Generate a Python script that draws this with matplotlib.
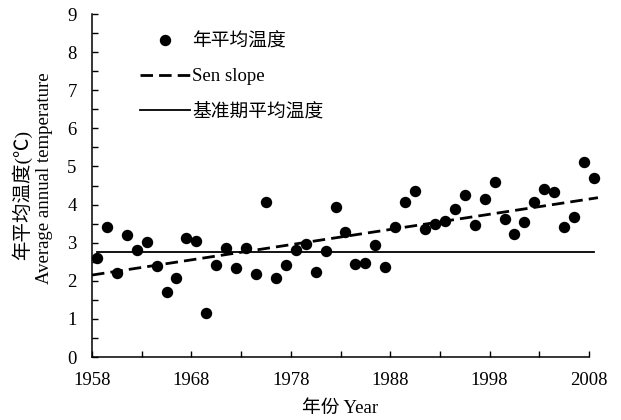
import matplotlib
matplotlib.use("Agg")
import matplotlib.pyplot as plt
from matplotlib.lines import Line2D

# Annual mean temperature series, 1958-2008
years = list(range(1958, 2009))
temps = [
    2.59, 3.42, 2.21, 3.20, 2.81, 3.03, 2.40, 1.71,            # 1958-1965
    2.08, 3.13, 3.05, 1.15, 2.42, 2.85, 2.34, 2.87, 2.19, 4.06,  # 1966-1975
    2.08, 2.42, 2.81, 2.96, 2.22, 2.77, 3.93, 3.28, 2.43, 2.46,  # 1976-1985
    2.94, 2.37, 3.42, 4.06, 4.36, 3.37, 3.50, 3.57, 3.88, 4.25,  # 1986-1995
    3.46, 4.14, 4.60, 3.61, 3.22, 3.54, 4.08, 4.41, 4.32, 3.42,  # 1996-2005
    3.67, 5.11, 4.69,                                            # 2006-2008
]

# Sen slope trend line (end points) and reference-period mean
sen_years = [1957.5, 2008.4]
sen_values = [2.15, 4.18]
base_years = [1958, 2008]
base_value = 2.76

# Axis ticks
xtick_years = [1958, 1963, 1968, 1973, 1978, 1983, 1988, 1993, 1998, 2003, 2008]
xtick_labels = ["1958", "", "1968", "", "1978", "", "1988", "", "1998", "", "2008"]
yticks = list(range(0, 10))

legend_labels = ["年平均温度", "Sen slope", "基准期平均温度"]
xlabel = "年份 Year"
ylabel_cn = "年平均温度(℃)"
ylabel_en = "Average annual temperature"

FAM = ["Liberation Serif", "Noto Sans CJK SC", "DejaVu Sans"]
plt.rcParams["font.family"] = FAM

fig = plt.figure(figsize=(6.21, 4.2), dpi=100)
ax = fig.add_axes([92 / 621, 63 / 420, 497 / 621, 343 / 420])

ax.plot(years, temps, linestyle="none", marker="o", markersize=7.2,
        color="black", clip_on=False, zorder=3)
ax.plot(sen_years, sen_values, color="black", linestyle=(0, (4.5, 2.2)),
        linewidth=2.0, clip_on=False, zorder=2)
ax.plot(base_years, [base_value, base_value], color="black",
        linewidth=1.3, clip_on=False, zorder=2)

ax.set_xlim(1957.5, 2007.5)
ax.set_ylim(0, 9)
ax.set_xticks([y - 0.5 for y in xtick_years])
ax.set_xticklabels(xtick_labels)
ax.set_yticks(yticks)
ax.set_yticks([v + 0.5 for v in yticks[:-1]], minor=True)

for side in ("top", "right"):
    ax.spines[side].set_visible(False)
for side in ("left", "bottom"):
    ax.spines[side].set_linewidth(1.1)

ax.tick_params(axis="both", which="both", direction="in", width=1.0,
               labelsize=13.5, colors="black")
ax.tick_params(axis="both", which="major", length=4.5)
ax.tick_params(axis="y", which="minor", length=4)
ax.tick_params(axis="y", which="both", pad=11)
ax.tick_params(axis="x", which="both", pad=11)

handles = [
    Line2D([], [], linestyle="none", marker="o", markersize=7.2, color="black"),
    Line2D([], [], color="black", linestyle=(0, (4.5, 2.2)), linewidth=2.0),
    Line2D([], [], color="black", linewidth=1.3),
]
ax.legend(handles, legend_labels, loc="upper left",
          bbox_to_anchor=((140 - 92) / 497, (357 - 33) / 343),
          frameon=False, borderpad=0, borderaxespad=0,
          handlelength=2.65, handletextpad=0.15, labelspacing=0.95,
          prop={"family": FAM, "size": 13.5})

fig.text(340 / 621, 1 - 408 / 420, xlabel, ha="center", va="center",
         fontsize=13.5, family=FAM)
fig.text(22 / 621, 1 - 195 / 420, ylabel_cn, rotation=90, ha="center",
         va="center", fontsize=14, family=FAM)
fig.text(45 / 621, 1 - 178 / 420, ylabel_en, rotation=90, ha="center",
         va="center", fontsize=13.5, family=FAM)

fig.savefig("out.png", dpi=100, facecolor="white")
